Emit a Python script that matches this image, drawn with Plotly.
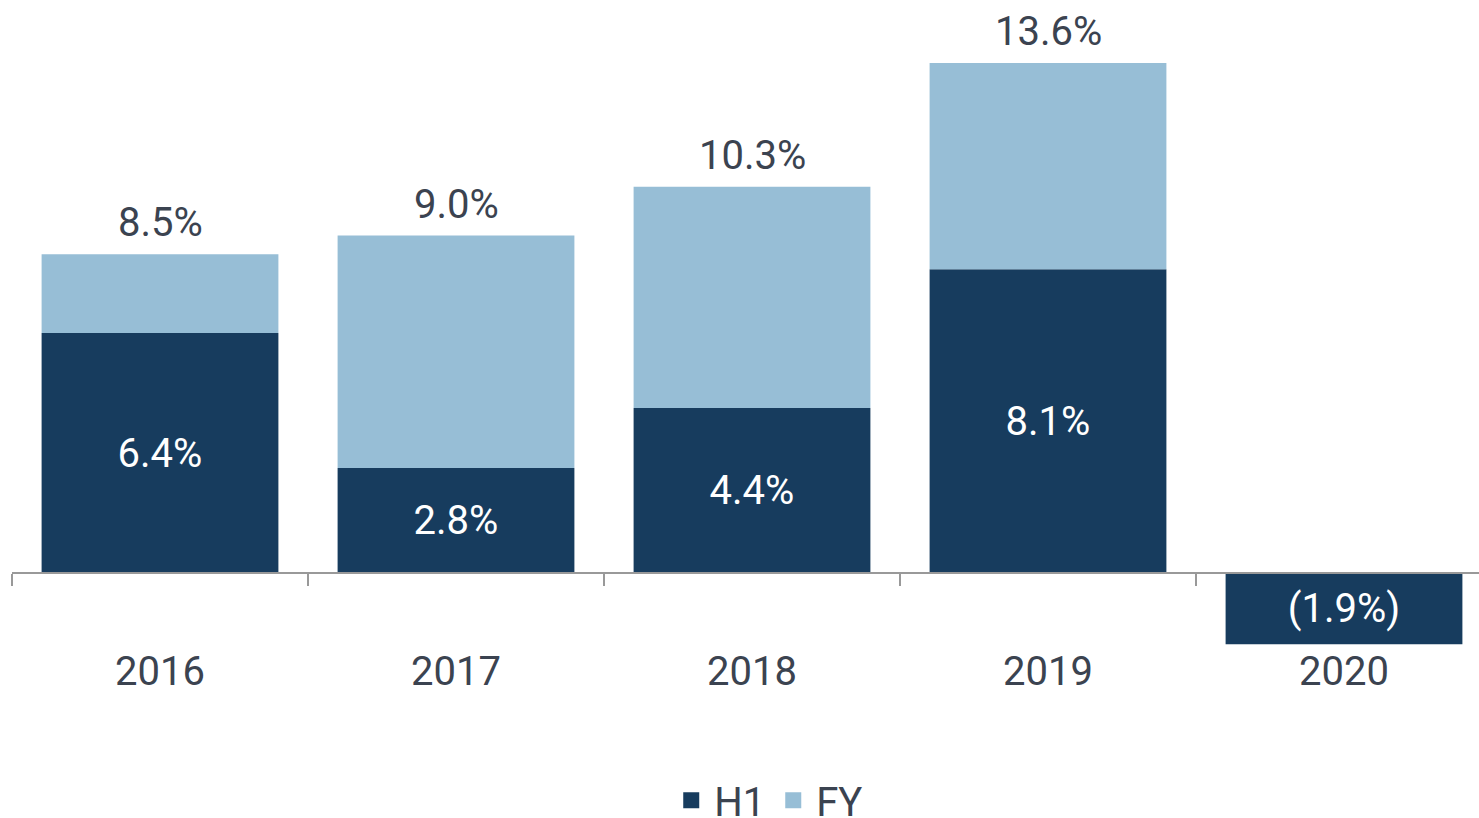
import plotly.graph_objects as go

years = ["2016", "2017", "2018", "2019", "2020"]
h1 = [6.4, 2.8, 4.4, 8.1, -1.9]
fy = [8.5, 9.0, 10.3, 13.6, None]

h1_labels = ["6.4%", "2.8%", "4.4%", "8.1%", "(1.9%)"]
fy_labels = ["8.5%", "9.0%", "10.3%", "13.6%", ""]

fy_rest = [(f - h) if f is not None else None for f, h in zip(fy, h1)]

DARK = "#173c5e"
LIGHT = "#97bed6"
TEXT = "#3b4350"
FONT = "Roboto"
FS = 40

ymin, ymax = -2.053, 15.28

fig = go.Figure()
fig.add_trace(go.Bar(
    x=years, y=h1, name="H1", marker=dict(color=DARK, line=dict(width=0)),
    text=h1_labels, textposition="inside", insidetextanchor="middle",
    textfont=dict(color="white", size=FS, family=FONT),
    constraintext="none", width=0.8, showlegend=False,
))
fig.add_trace(go.Bar(
    x=years, y=fy_rest, name="FY", marker=dict(color=LIGHT, line=dict(width=0)),
    width=0.8, showlegend=False,
))
for i, (val, lab) in enumerate(zip(fy, fy_labels)):
    if val is None:
        continue
    fig.add_annotation(x=i, y=val, xref="x", yref="y", text=lab, showarrow=False,
                       yanchor="bottom", yshift=6,
                       font=dict(size=FS, color=TEXT, family=FONT))
# legend entries
for nm, col in [("H1", DARK), ("FY", LIGHT)]:
    fig.add_trace(go.Scatter(
        x=[None], y=[None], mode="markers", name=nm,
        marker=dict(symbol="square", color=col, size=22),
    ))

fig.update_layout(
    width=1479, height=818,
    margin=dict(l=12, r=0, t=0, b=168, autoexpand=False),
    barmode="relative",
    plot_bgcolor="white", paper_bgcolor="white",
    font=dict(family=FONT, color=TEXT, size=FS),
    legend=dict(orientation="h", x=0.5155, xanchor="center", y=-0.231, yanchor="middle",
                font=dict(size=FS, color=TEXT), itemsizing="trace", tracegroupgap=0,
                itemwidth=36),
    xaxis=dict(
        type="category", range=[-0.5, -0.5 + 1467 / 296], automargin=False,
        anchor="free", position=(0 - ymin) / (ymax - ymin),
        showline=True, linecolor="#999999", linewidth=2,
        ticks="outside", tickson="boundaries", ticklen=12, tickwidth=2, tickcolor="#999999",
        tickfont=dict(size=FS, color=TEXT, family=FONT),
        ticklabelstandoff=63, showgrid=False,
    ),
    yaxis=dict(range=[ymin, ymax], visible=False, showgrid=False, zeroline=False,
               automargin=False),
)

fig.write_html("out.html", config={"displayModeBar": False},
               post_script="document.body.style.margin='0';document.body.style.overflow='hidden';")
